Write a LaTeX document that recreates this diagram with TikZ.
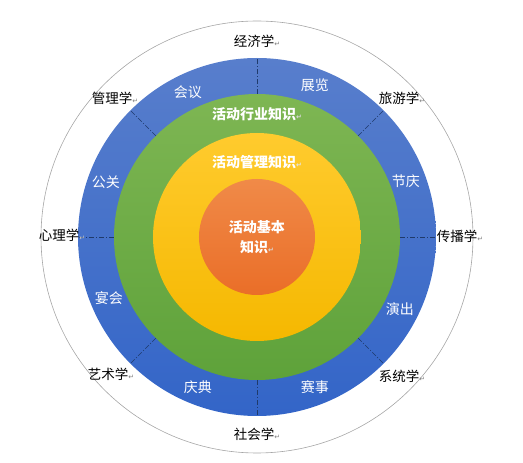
\documentclass[tikz,border=0pt]{standalone}
\usepackage{fontspec}
\usepackage{xcolor}
\usepackage{tikz}
\newfontfamily\cjk{Noto Sans CJK SC}
\newfontfamily\symf{DejaVu Sans}
\definecolor{bluetop}{HTML}{587ECC}
\definecolor{bluebot}{HTML}{3365C8}
\definecolor{greentop}{HTML}{7EB653}
\definecolor{greenbot}{HTML}{5EA23A}
\definecolor{yellowtop}{HTML}{FFCB2E}
\definecolor{yellowbot}{HTML}{F5B800}
\definecolor{orangetop}{HTML}{F08A48}
\definecolor{orangebot}{HTML}{EA6E28}
\definecolor{spokenavy}{HTML}{1F3A6B}
\newcommand{\retmark}[1][gray]{{\symf\fontsize{7}{7}\selectfont\textcolor{#1}{↵}}}

\begin{document}
\begin{tikzpicture}[x=1pt,y=1pt,
  outerlabel/.style={font=\cjk\fontsize{13.5}{15}\selectfont, text=black, inner sep=0pt},
  ringlabel/.style={font=\cjk\fontsize{14}{16}\selectfont, text=white, inner sep=0pt},
  corelabel/.style={font=\cjk\bfseries\fontsize{14}{20}\selectfont, text=white, inner sep=0pt, align=center},
  spoke/.style={draw=spokenavy, line width=0.7pt, dash pattern=on 5pt off 2pt on 1pt off 2pt}]
			\useasboundingbox (-257,-226) rectangle (266,237);
			\coordinate (c) at (0,0);
			\draw[gray!70, line width=0.6pt] (c) circle (216);
			\shade[top color=bluetop, bottom color=bluebot] (c) circle (179);
			\shade[top color=greentop, bottom color=greenbot] (c) circle (143);
			\shade[top color=yellowtop, bottom color=yellowbot] (c) circle (104);
			\shade[top color=orangetop, bottom color=orangebot] (c) circle (58);
			\foreach \a in {0,45,...,315}
				\draw[spoke] (\a:143) -- (\a:179);
			% outer subjects
			\node[outerlabel] (jingji) at (0,196) {经济学\retmark};
			\node[outerlabel] (lvyou) at (145,139) {旅游学\retmark};
			\node[outerlabel] (chuanbo) at (203,1) {传播学\retmark};
			\node[outerlabel] (xitong) at (145,-139) {系统学\retmark};
			\node[outerlabel] (shehui) at (0,-197) {社会学\retmark};
			\node[outerlabel] (yishu) at (-146,-137) {艺术学\retmark};
			\node[outerlabel] (xinli) at (-195,2) {心理学\retmark[gray!40]};
			\node[outerlabel] (guanli) at (-142,139) {管理学\retmark};
			% event types
			\node[ringlabel] (huiyi) at (-69,145) {会议};
			\node[ringlabel] (zhanlan) at (58,152) {展览};
			\node[ringlabel] (jieqing) at (149,56) {节庆};
			\node[ringlabel] (yanchu) at (143,-72) {演出};
			\node[ringlabel] (saishi) at (58,-150) {赛事};
			\node[ringlabel] (qingdian) at (-59,-150) {庆典};
			\node[ringlabel] (yanhui) at (-148,-61) {宴会};
			\node[ringlabel] (gongguan) at (-151,55) {公关};
			% knowledge layers
			\node[corelabel] (hangye) at (0,123) {活动行业知识\retmark[white!70!gray]};
			\node[corelabel] (guanlizs) at (0,75) {活动管理知识\retmark[white!80!gray]};
			\node[corelabel] (jiben) at (0,0) {活动基本\\知识\retmark[white!70!gray]};
\end{tikzpicture}
\end{document}
